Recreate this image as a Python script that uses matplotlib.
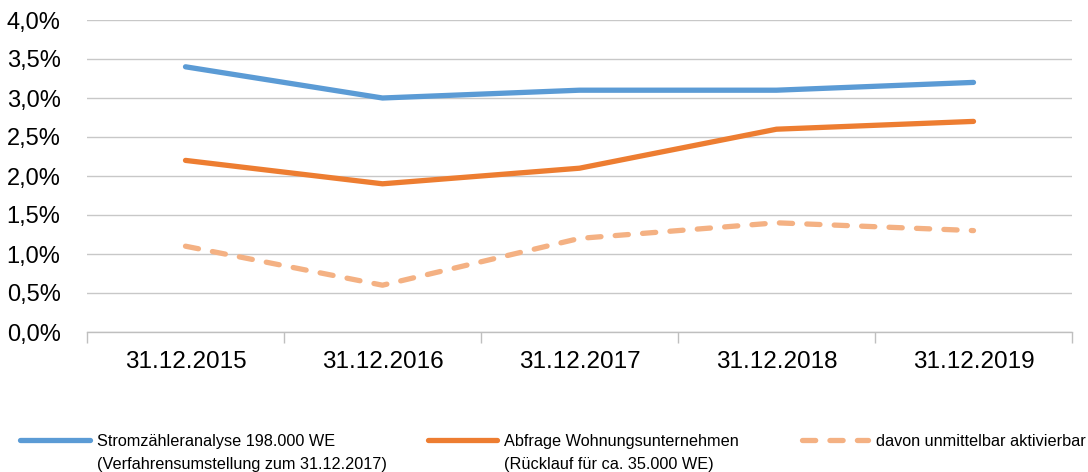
import matplotlib
matplotlib.use("Agg")
import matplotlib.pyplot as plt
from matplotlib.lines import Line2D
import numpy as np

categories = ["31.12.2015", "31.12.2016", "31.12.2017", "31.12.2018", "31.12.2019"]
strom = [3.4, 3.0, 3.1, 3.1, 3.2]
abfrage = [2.2, 1.9, 2.1, 2.6, 2.7]
davon = [1.1, 0.6, 1.2, 1.4, 1.3]
y_ticks = [0.0, 0.5, 1.0, 1.5, 2.0, 2.5, 3.0, 3.5, 4.0]
labels = ["Stromzähleranalyse 198.000 WE\n(Verfahrensumstellung zum 31.12.2017)",
          "Abfrage Wohnungsunternehmen\n(Rücklauf für ca. 35.000 WE)",
          "davon unmittelbar aktivierbar"]

BLUE = "#5B9BD5"
ORANGE = "#ED7D31"
LIGHT = "#F4B183"
FONT = "Liberation Sans"
DASH = (0, (2.5, 2.7))

W, H = 1088, 472
fig = plt.figure(figsize=(W / 100, H / 100), dpi=100)
ax = fig.add_axes([87 / W, 1 - 332 / H, (1072 - 87) / W, (332 - 20) / H])

x = np.arange(len(categories))
lw = 3.8
ax.plot(x, davon, color=LIGHT, lw=lw, linestyle=DASH, dash_capstyle="round",
        dash_joinstyle="round", zorder=3)
ax.plot(x, abfrage, color=ORANGE, lw=lw, solid_capstyle="round", solid_joinstyle="round", zorder=3)
ax.plot(x, strom, color=BLUE, lw=lw, solid_capstyle="round", solid_joinstyle="round", zorder=3)

ax.set_xlim(-0.5, len(categories) - 0.5)
ax.set_ylim(0, 4.0)
ax.set_yticks(y_ticks)
ax.set_yticklabels([f"{v:.1f}%".replace(".", ",") for v in y_ticks], fontsize=17, family=FONT)
ax.set_xticks(x)
ax.set_xticklabels(categories, fontsize=17.5, family=FONT)
ax.set_xticks(np.arange(len(categories) + 1) - 0.5, minor=True)
ax.tick_params(axis="x", which="major", length=0, pad=14)
ax.tick_params(axis="x", which="minor", length=8, color="#BFBFBF", width=1)
ax.tick_params(axis="y", length=0, pad=19)
ax.grid(axis="y", color="#C8C8C8", lw=1)
ax.set_axisbelow(True)
for s in ["top", "right", "left"]:
    ax.spines[s].set_visible(False)
ax.spines["bottom"].set_color("#BFBFBF")
ax.spines["bottom"].set_linewidth(1)
ax.spines["bottom"].set_zorder(2)

# legend
entries = [(20, 90, 97, BLUE, "-"), (428, 497, 504, ORANGE, "-"), (802, 868, 876, LIGHT, DASH)]
ly = 440
for (x0, x1, tx, color, ls), lab in zip(entries, labels):
    fig.add_artist(Line2D([x0 / W, x1 / W], [1 - ly / H] * 2, transform=fig.transFigure,
                          color=color, lw=lw, linestyle=ls, solid_capstyle="round",
                          dash_capstyle="round"))
    fig.text(tx / W, 1 - (ly - 6) / H, lab, fontsize=11.7, family=FONT, va="top", ha="left",
             linespacing=1.65)

fig.savefig("out.png", dpi=100)
